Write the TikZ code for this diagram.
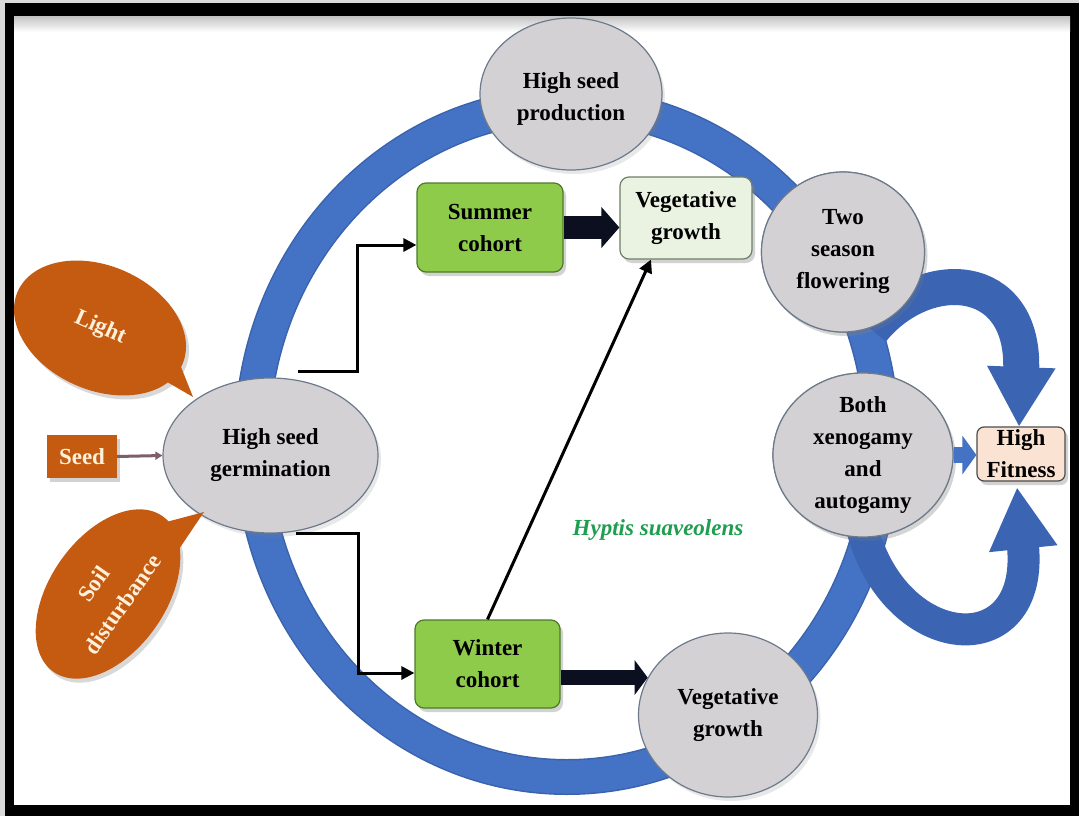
\documentclass[tikz,border=0pt]{standalone}
\usepackage{fontspec}
\setmainfont{Liberation Serif}
\usetikzlibrary{arrows.meta,shapes.geometric,shadows,calc}
\definecolor{ringblue}{HTML}{4472C4}
\definecolor{ringedge}{HTML}{3A63AD}
\definecolor{curveblue}{HTML}{3B64B2}
\definecolor{gfill}{HTML}{D3D1D3}
\definecolor{gedge}{HTML}{6D7A8C}
\definecolor{greenfill}{HTML}{8FCB4A}
\definecolor{greenedge}{HTML}{4E7A2A}
\definecolor{palegreen}{HTML}{EAF3E2}
\definecolor{paleedge}{HTML}{6F7F68}
\definecolor{peach}{HTML}{FBE3D3}
\definecolor{orangec}{HTML}{C55A11}
\definecolor{cream}{HTML}{FFF0D9}
\definecolor{hyptis}{HTML}{1F9E50}
\definecolor{seedline}{HTML}{7E5F68}
\definecolor{blockblack}{HTML}{0B0F1F}
\begin{document}
\begin{tikzpicture}[x=1pt,y=-1pt,
  txt/.style={font=\fontsize{23}{32}\selectfont\bfseries, align=center},
  gnode/.style={ellipse, draw=gedge, line width=1.2pt, fill=gfill, inner sep=0pt,
    drop shadow={opacity=0.18,shadow xshift=3pt,shadow yshift=-4pt}},
  gbox/.style={rectangle, rounded corners=9pt, draw=greenedge, line width=1.2pt, fill=greenfill,
    txt, inner sep=0pt, drop shadow={opacity=0.35,shadow xshift=3pt,shadow yshift=-4pt}},
  palebox/.style={rectangle, rounded corners=9pt, draw=paleedge, line width=1.2pt, fill=palegreen,
    txt, inner sep=0pt, drop shadow={opacity=0.35,shadow xshift=3pt,shadow yshift=-4pt}},
  fitbox/.style={rectangle, rounded corners=7pt, draw=black!70, line width=1.2pt, fill=peach,
    txt, inner sep=0pt, drop shadow={opacity=0.35,shadow xshift=3pt,shadow yshift=-4pt}},
  callout/.style={ellipse, fill=orangec, text=cream, txt, inner sep=0pt,
    drop shadow={opacity=0.3,shadow xshift=3pt,shadow yshift=-4pt}},
  seedbox/.style={rectangle, fill=orangec, text=cream, txt, inner sep=0pt,
    drop shadow={opacity=0.35,shadow xshift=3pt,shadow yshift=-4pt}},
  thinarrow/.style={line width=3pt, -{Triangle[length=13pt,width=13pt]}},
  blockarrow/.style={blockblack, line width=23pt, -{Triangle[length=18pt,width=40pt]}},
  blockarrowsmall/.style={blockblack, line width=15pt, -{Triangle[length=13pt,width=34pt]}},
  bigcurve/.style={curveblue, line width=36pt},
]
\useasboundingbox (0,0) rectangle (1079,816);
% frame
\fill[gray!30] (0,0) rectangle (1079,816);
\fill[black] (5,3) rectangle (1079,816);
\fill[white] (14,17) rectangle (1070,805);
\shade[top color=gray!45, bottom color=white] (14,17) rectangle (1070,32);

% ring
\draw[ringedge, line width=36pt] (567,441) ellipse [x radius=315pt, y radius=336pt];
\draw[ringblue, line width=33pt] (567,441) ellipse [x radius=315pt, y radius=336pt];

% nodes
\node[gnode, minimum width=182pt, minimum height=152pt,
  label={[txt,yshift=-5pt]center:High seed\\production}] (prod) at (571,94) {};
\node[gnode, minimum width=163pt, minimum height=160pt,
  label={[txt]center:Two\\season\\flowering}] (flower) at (843,252) {};
\node[gnode, minimum width=180pt, minimum height=164pt,
  label={[txt]center:Both\\xenogamy\\and\\autogamy}] (both) at (863,455) {};
\node[gnode, minimum width=179pt, minimum height=164pt,
  label={[txt]center:Vegetative\\growth}] (vegbot) at (728,715) {};
\node[gnode, minimum width=215pt, minimum height=155pt,
  label={[txt]center:High seed\\germination}] (germ) at (270.5,455.5) {};

% curved arrows to fitness
\draw[bigcurve, -{Triangle[length=60pt,width=64pt]}]
  (872,330) .. controls (925,265) and (1025,270) .. (1019,427);
\draw[bigcurve, line width=32pt, -{Triangle[length=62pt,width=64pt]}]
  (862,528) .. controls (895,655) and (1035,665) .. (1017,487);

% redraw the ellipses the curves pass behind
\node[gnode, minimum width=163pt, minimum height=160pt,
  label={[txt]center:Two\\season\\flowering}] at (flower) {};
\node[gnode, minimum width=180pt, minimum height=164pt,
  label={[txt]center:Both\\xenogamy\\and\\autogamy}] at (both) {};

\node[gbox, minimum width=146pt, minimum height=89pt] (summer) at (490,227.5) {Summer\\cohort};
\node[gbox, minimum width=145pt, minimum height=88pt] (winter) at (487.5,664) {Winter\\cohort};
\node[palebox, minimum width=132pt, minimum height=82pt] (vegtop) at (686,218) {Vegetative\\growth};
\node[fitbox, minimum width=88pt, minimum height=54pt] (fitness) at (1021,454) {High\\Fitness};

% callouts
\node[callout, rotate=-24, minimum width=180pt, minimum height=124pt] (light) at (100,328) {Light};
\fill[orangec] (150,372) -- (193,397) -- (175,352) -- cycle;
\node[callout, rotate=55, minimum width=190pt, minimum height=116pt,
  font=\fontsize{23}{35}\selectfont\bfseries] (soil) at (108,594) {Soil\\disturbance};
\fill[orangec] (155,525) -- (204,512) -- (175,555) -- cycle;
\node[seedbox, minimum width=70pt, minimum height=43pt] (seed) at (82,456.5) {Seed};

\node[font=\fontsize{23}{28}\selectfont\bfseries\itshape, text=hyptis] (hyptis) at (658,530) {Hyptis suaveolens};

% connectors
\draw[seedline, line width=3pt, -{Triangle[length=7pt,width=8pt]}] (seed.east) -- (germ.west);
\draw[thinarrow] ($(germ.north)+(27.5,-6)$) -- ++(59,0) |- ([yshift=-17.5pt]summer.west);
\draw[thinarrow] ($(germ.south)+(25.5,0)$) -- ++(62,0) |- ([yshift=-9pt]winter.west);
\draw[thinarrow] (winter.north) -- ($(vegtop.south)+(-35,0)$);
\draw[blockarrow] (summer.east) -- (summer.east -| vegtop.west);
\draw[blockarrowsmall] (winter.east |- vegbot.155) -- (vegbot.155);
\draw[ringblue, line width=16pt, -{Triangle[length=14pt,width=38pt]}] (both.east) -- (both.east -| fitness.west);
\end{tikzpicture}
\end{document}
